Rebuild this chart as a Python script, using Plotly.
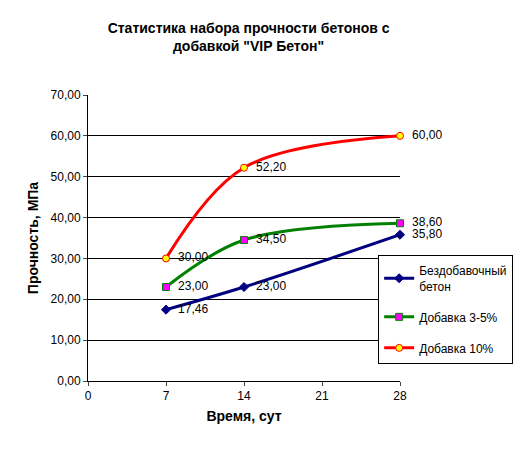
import plotly.graph_objects as go

days = [7, 14, 28]
plain = [17.46, 23.00, 35.80]
add_3_5 = [23.00, 34.50, 38.60]
add_10 = [30.00, 52.20, 60.00]

series = [
    ("Бездобавочный<br>бетон", plain, "#000080", "#000080", "diamond"),
    ("Добавка 3-5%", add_3_5, "#008000", "#FF00FF", "square"),
    ("Добавка 10%", add_10, "#FF0000", "#FFFF00", "circle"),
]

fig = go.Figure()
for i, (name, vals, lc, mc, sym) in enumerate(series):
    fig.add_trace(go.Scatter(
        x=days, y=vals, name=name, mode="lines+markers+text", legendgroup=f"g{i}",
        line=dict(color=lc, width=3, shape="spline"),
        marker=dict(color=mc, symbol=sym, size=7, line=dict(color=lc, width=1)),
        text=["  " + f"{v:.2f}".replace(".", ",") for v in vals],
        textposition="middle right", textfont=dict(color="black", size=12),
        cliponaxis=False,
    ))

fig.update_layout(
    width=523, height=451,
    paper_bgcolor="white", plot_bgcolor="white",
    font=dict(family="Arial, Liberation Sans", size=12, color="black"),
    title=dict(text="<b>Статистика набора прочности бетонов с<br>добавкой \"VIP Бетон\"</b>",
               x=0.46, xanchor="center", y=0.945, font=dict(size=14), automargin=False),
    margin=dict(l=80, r=131, t=87, b=78, autoexpand=False),
    xaxis=dict(range=[0, 28], tickvals=[0, 7, 14, 21, 28], showgrid=False,
               showline=True, linecolor="black", ticks="outside", ticklen=4,
               title=dict(text="<b>Время, сут</b>", standoff=8), zeroline=False,
               automargin=False),
    yaxis=dict(range=[0, 70], dtick=10, tickformat=".2f",
               showgrid=True, gridcolor="black", gridwidth=1,
               showline=True, linecolor="black", ticks="outside", ticklen=4,
               title=dict(text="<b>Прочность, МПа</b>", standoff=8), zeroline=False,
               automargin=False),
    separators=", ",
    legend=dict(x=0.93, y=0.44, xanchor="left", yanchor="top", xref="paper",
                bgcolor="white", bordercolor="black", borderwidth=1,
                font=dict(size=12), tracegroupgap=12),
)

fig.write_html("out.html")
